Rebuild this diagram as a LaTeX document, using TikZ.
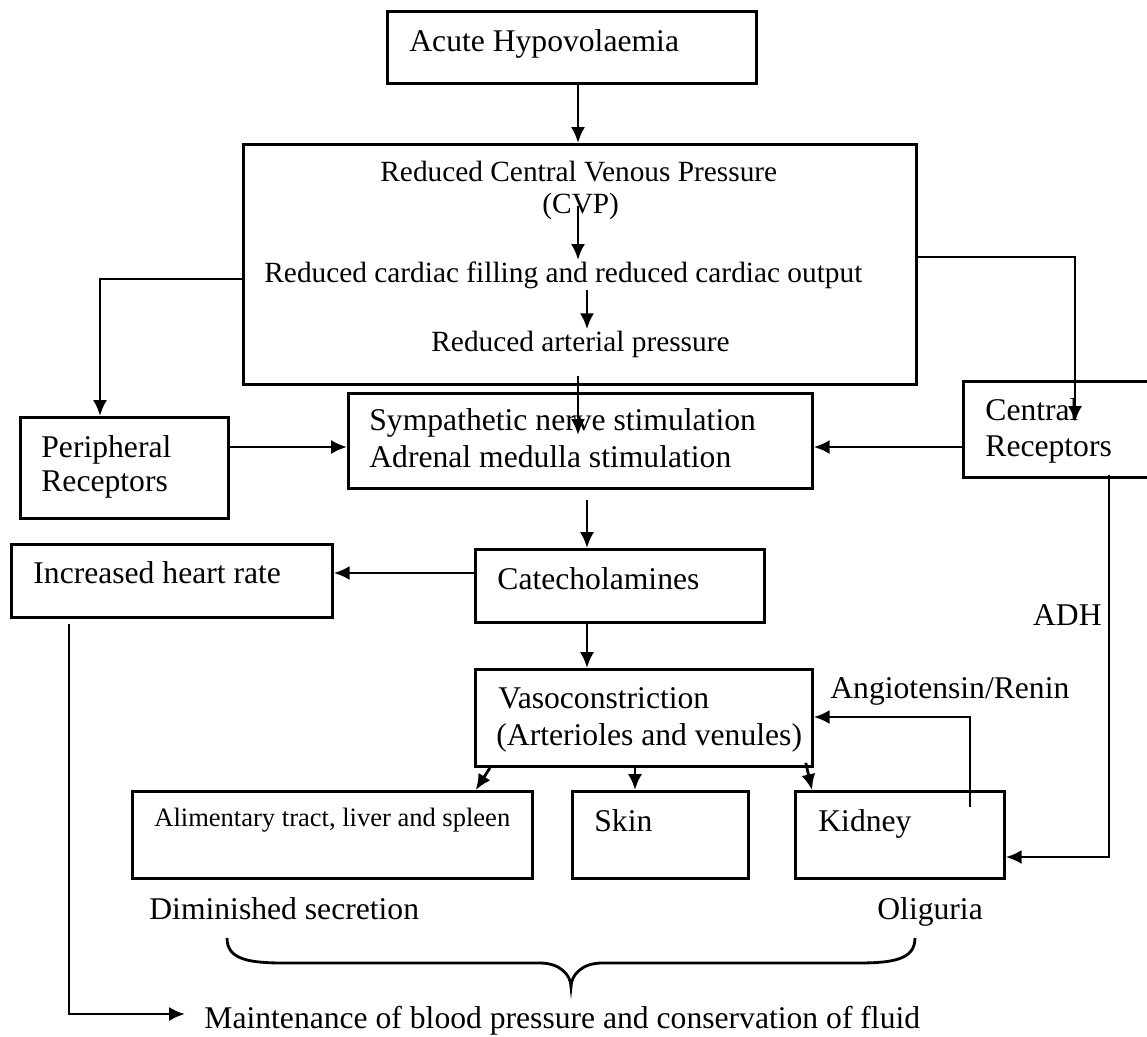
\documentclass[tikz,border=0pt]{standalone}
\usepackage{fontspec}
\setmainfont{Liberation Serif}
\usetikzlibrary{arrows.meta, calc}

\def \lw {1.6pt}

\tikzset{
  box/.style={draw, line width=\lw, rectangle, inner sep=0pt, anchor=north west},
  boxtxt/.style={inner sep=0pt, anchor=base west, font=\fontsize{18}{21}\selectfont},
  cvptxt/.style={boxtxt, font=\fontsize{16.7}{20}\selectfont},
  smalltxt/.style={boxtxt, font=\fontsize{15.1}{18}\selectfont},
}

\begin{document}
\begin{tikzpicture}[x=0.02cm, y=-0.02cm, line width=\lw, >={Latex[length=9pt, width=8pt]}]
\useasboundingbox (0,0) rectangle (1147,1036);
\clip (0,0) rectangle (1147,1036);
\fill[white] (0,0) rectangle (1147,1036);

% boxes
\node[box, minimum width=7.38cm, minimum height=1.44cm] (acute) at (386,10) {};
\node[box, minimum width=13.46cm, minimum height=4.80cm] (bigbox) at (242,143) {};
\node[box, minimum width=4.16cm, minimum height=2.02cm] (periph) at (19,416) {};
\node[box, minimum width=9.28cm, minimum height=1.90cm] (symp) at (347,392) {};
\node[box, minimum width=3.96cm, minimum height=1.92cm] (central) at (962,380) {}; % runs off the page
\node[box, minimum width=6.42cm, minimum height=1.46cm] (heart) at (10,543) {};
\node[box, minimum width=5.78cm, minimum height=1.46cm] (catech) at (474,548) {};
\node[box, minimum width=6.74cm, minimum height=1.94cm] (vaso) at (474,668) {};
\node[box, minimum width=8.00cm, minimum height=1.74cm] (aliment) at (131,790) {};
\node[box, minimum width=3.52cm, minimum height=1.74cm] (skin) at (571,790) {};
\node[box, minimum width=4.18cm, minimum height=1.74cm] (kidney) at (794,790) {};

% texts
\node[boxtxt] (acutetxt) at (408,51) {Acute Hypovolaemia};
\node[cvptxt] (cvp) at (379,181) {Reduced Central Venous Pressure};
\node[cvptxt] (cvpabbr) at (541,213) {(CVP)};
\node[cvptxt] (filling) at (263,282) {Reduced cardiac filling and reduced cardiac output};
\node[cvptxt] (arterial) at (430,351) {Reduced arterial pressure};
\node[boxtxt] (periph1) at (40,457) {Peripheral};
\node[boxtxt] (periph2) at (40,491) {Receptors};
\node[boxtxt] (symp1) at (368,430) {Sympathetic nerve stimulation};
\node[boxtxt] (symp2) at (368,467) {Adrenal medulla stimulation};
\node[boxtxt] (central1) at (984,420) {Central};
\node[boxtxt] (central2) at (984,456) {Receptors};
\node[boxtxt] (hearttxt) at (32,583) {Increased heart rate};
\node[boxtxt] (catechtxt) at (496,589) {Catecholamines};
\node[boxtxt] (vaso1) at (497,708) {Vasoconstriction};
\node[boxtxt] (vaso2) at (495,745) {(Arterioles and venules)};
\node[boxtxt] (angio) at (829,698) {Angiotensin/Renin};
\node[boxtxt, anchor=base east] (adh) at (1103,625) {ADH};
\node[smalltxt] (alimtxt) at (153,826) {Alimentary tract, liver and spleen};
\node[boxtxt] (skintxt) at (593,831) {Skin};
\node[boxtxt] (kidneytxt) at (817,831) {Kidney};
\node[boxtxt] (dimin) at (148,919) {Diminished secretion};
\node[boxtxt] (olig) at (876,919) {Oliguria};
\node[boxtxt] (maint) at (203,1028) {Maintenance of blood pressure and conservation of fluid};

% turning points
\coordinate (spine) at (578,0);
\coordinate (spineb) at (587,0);
\coordinate (lbranch) at (100,279);
\coordinate (rbranch) at (1075,257);
\coordinate (midrow) at (0,447);
\coordinate (heartrow) at (0,573);
\coordinate (hbranch) at (69,1014);
\coordinate (htip) at (185,1014);
\coordinate (fback) at (970,717);
\coordinate (adhturn) at (1109,857);

% connectors
\draw[->] (acute.south -| spine) -- (bigbox.north -| spine);
\draw[->] (cvpabbr.center -| spine) -- (filling.north -| spine);
\draw[->] (filling.south -| spineb) -- (arterial.north -| spineb);
\draw[->] ($(bigbox.south -| spine)+(0,-10)$) -- ($(symp.north -| spine)+(0,43)$);
\draw[->] (bigbox.west |- lbranch) -- (lbranch) -- (periph.north -| lbranch);
\draw[->] (periph.east |- midrow) -- (symp.west |- midrow);
\draw[->] (bigbox.east |- rbranch) -- (rbranch) -- ($(central.north -| rbranch)+(0,42)$);
\draw[->] (central.west |- midrow) -- (symp.east |- midrow);
\draw[->] ($(symp.south -| spineb)+(0,10)$) -- (catech.north -| spineb);
\draw[->] (catech.west |- heartrow) -- (heart.east |- heartrow);
\draw[->] (catech.south -| spineb) -- (vaso.north -| spineb);
\draw[->] ($(heart.south -| hbranch)+(0,5)$) -- (hbranch) -- (htip);
\draw[->] ($(vaso.south west)+(16,0)$) -- ($(aliment.north east)+(-58,0)$);
\draw[->] ($(vaso.south west)+(161,0)$) -- ($(skin.north west)+(64,0)$);
\draw[->] ($(vaso.south east)+(-8,-5)$) -- ($(kidney.north west)+(18,0)$);
\draw[->] ($(kidney.north -| fback)+(0,17)$) -- (fback) -- (vaso.east |- fback); % Angiotensin/Renin
\draw[->] ($(central.south -| adhturn)+(0,-4)$) -- (adhturn) -- (kidney.east |- adhturn); % ADH

% brace
\draw (227,938) .. controls (227,960) and (250,963) .. (285,963) -- (540,963)
  .. controls (560,963) and (571,975) .. (571,987)
  .. controls (571,975) and (582,963) .. (602,963) -- (857,963)
  .. controls (892,963) and (915,960) .. (915,938);
\end{tikzpicture}
\end{document}
